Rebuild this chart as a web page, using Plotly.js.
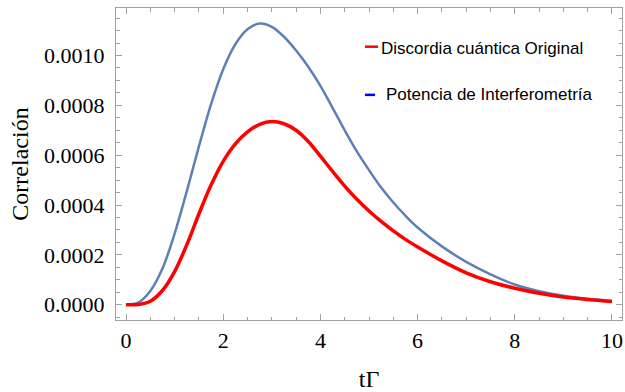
<!DOCTYPE html>
<html>
<head>
<meta charset="utf-8">
<script src="https://cdn.plot.ly/plotly-3.0.1.min.js"></script>
<style>html,body{margin:0;padding:0;background:#fff;}#chart{width:625px;height:392px;}</style>
</head>
<body>
<div id="chart"></div>
<script>
// tΓ sample positions
const tGrid = [0, 0.25, 0.5, 0.75, 1.0, 1.25, 1.5, 1.75, 2.0, 2.25, 2.5, 2.75, 3.0, 3.25, 3.5, 3.75, 4.0, 4.25, 4.5, 4.75, 5.0, 5.25, 5.5, 5.75, 6.0, 6.5, 7.0, 7.5, 8.0, 8.5, 9.0, 9.5, 10.0];

// Potencia de Interferometría (blue curve)
const vBlue = [0, 0.000008, 0.000055, 0.000145, 0.000285, 0.000455, 0.000635, 0.000805, 0.000945, 0.001045, 0.001105, 0.001128, 0.001115, 0.001075, 0.001020, 0.000955, 0.000878, 0.000790, 0.000700, 0.000615, 0.000540, 0.000470, 0.000410, 0.000357, 0.000310, 0.000234, 0.000172, 0.000122, 0.000081, 0.000054, 0.000036, 0.000024, 0.000015];

// Discordia cuántica Original (red curve)
const vRed = [0, 0.000001, 0.000014, 0.000057, 0.000133, 0.000240, 0.000364, 0.000480, 0.000575, 0.000645, 0.000693, 0.000724, 0.000735, 0.000726, 0.000700, 0.000655, 0.000596, 0.000535, 0.000476, 0.000423, 0.000376, 0.000334, 0.000296, 0.000262, 0.000232, 0.000176, 0.000128, 0.000092, 0.000066, 0.000046, 0.000031, 0.000021, 0.000013];

const legendLabels = ["Discordia cuántica Original", "Potencia de Interferometría"];
const xTitle = "tΓ";
const yTitle = "Correlación";

const frameColor = "#a0a0a0";
const serif = "Liberation Serif, Times New Roman, serif";

const traces = [
  {x: tGrid, y: vBlue, type: "scatter", mode: "lines", line: {color: "#5E81B5", width: 2.5, shape: "spline", smoothing: 1}, showlegend: false, hoverinfo: "skip"},
  {x: tGrid, y: vRed, type: "scatter", mode: "lines", line: {color: "#FF0000", width: 3.5, shape: "spline", smoothing: 1}, showlegend: false, hoverinfo: "skip"}
];

const axisCommon = {
  showline: true, mirror: "allticks", linecolor: frameColor, linewidth: 1,
  ticks: "inside", ticklen: 6, tickwidth: 1, tickcolor: frameColor,
  showgrid: false, zeroline: false, automargin: false,
  tickfont: {family: serif, size: 22, color: "#000"}
};

const layout = {
  width: 625, height: 392,
  margin: {l: 116, r: 3, t: 8, b: 71.5},
  paper_bgcolor: "#fff", plot_bgcolor: "#fff",
  showlegend: false,
  xaxis: Object.assign({}, axisCommon, {
    range: [-0.206, 10.206], tick0: 0, dtick: 2,
    minor: {dtick: 0.5, ticks: "inside", ticklen: 3.5, tickcolor: frameColor, showgrid: false},
    ticklabelstandoff: 1,
    title: {text: xTitle, font: {family: serif, size: 24, color: "#000"}, standoff: 22}
  }),
  yaxis: Object.assign({}, axisCommon, {
    range: [-0.0000613, 0.0011904], tick0: 0, dtick: 0.0002, tickformat: ".4f",
    minor: {dtick: 0.00005, ticks: "inside", ticklen: 3.5, tickcolor: frameColor, showgrid: false},
    ticklabelstandoff: 6,
    title: {text: yTitle, font: {family: serif, size: 24, color: "#000"}, standoff: 8}
  }),
  shapes: [
    {type: "line", xref: "paper", yref: "paper", x0: 0.492, x1: 0.518, y0: 0.876, y1: 0.876, line: {color: "#FF0000", width: 2.5}},
    {type: "line", xref: "paper", yref: "paper", x0: 0.492, x1: 0.512, y0: 0.7216, y1: 0.7216, line: {color: "#0000FF", width: 2.5}}
  ],
  annotations: [
    {xref: "paper", yref: "paper", x: 0.519, y: 0.871, xanchor: "left", yanchor: "middle", text: legendLabels[0], showarrow: false, font: {family: "Liberation Sans, Arial, sans-serif", size: 17, color: "#000"}},
    {xref: "paper", yref: "paper", x: 0.530, y: 0.7216, xanchor: "left", yanchor: "middle", text: legendLabels[1], showarrow: false, font: {family: "Liberation Sans, Arial, sans-serif", size: 17, color: "#000"}}
  ]
};

Plotly.newPlot("chart", traces, layout, {staticPlot: true, displayModeBar: false});
</script>
</body>
</html>
